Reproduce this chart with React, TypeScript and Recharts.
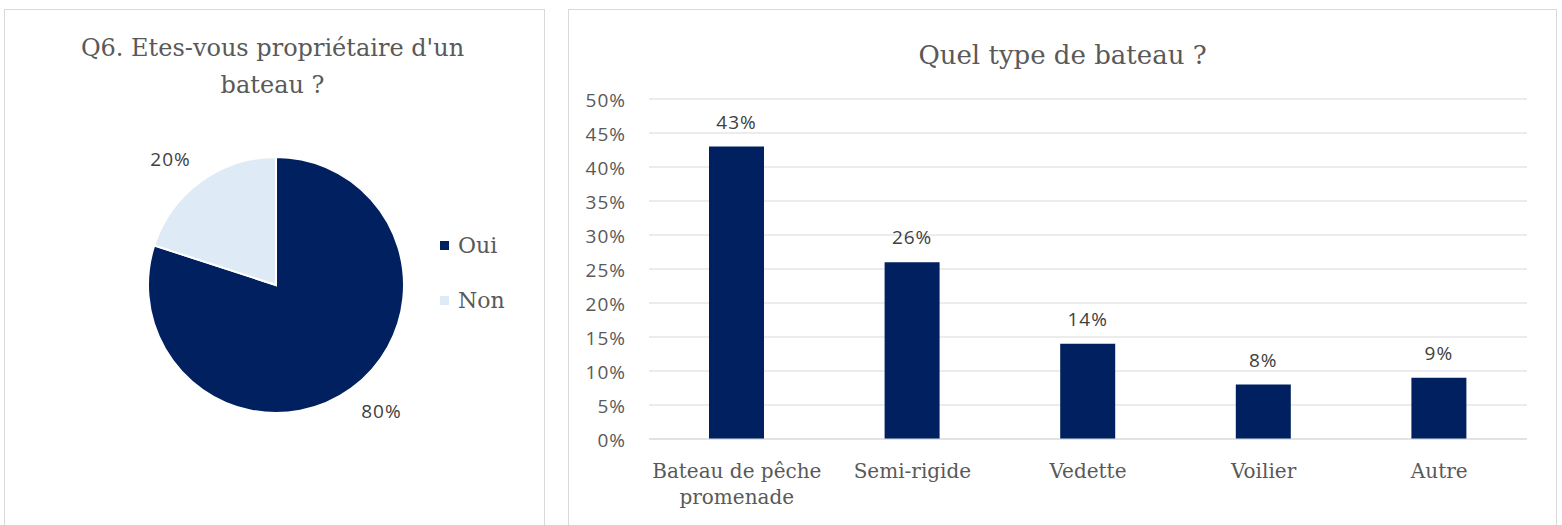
import React from 'react';
import { PieChart, Pie, Cell, BarChart, Bar, XAxis, YAxis, CartesianGrid, LabelList, Text } from 'recharts';

const pieNames = ['Oui', 'Non'];
const pieValues = [80, 20];
const pieColors = ['#002060', '#DEEBF7'];

const boatTypes = ['Bateau de pêche promenade', 'Semi-rigide', 'Vedette', 'Voilier', 'Autre'];
const boatShares = [43, 26, 14, 8, 9];
const percentTicks = [0, 5, 10, 15, 20, 25, 30, 35, 40, 45, 50];

const SERIF = '"DejaVu Serif", serif';
const SANS = '"Open Sans", sans-serif';
const TEXT = '#595959';
const GRID = '#D9D9D9';
const RADIAN = Math.PI / 180;

const pieData = pieNames.map((name, i) => ({ name, value: pieValues[i] }));
const barData = boatTypes.map((type, i) => ({ type, share: boatShares[i] }));

// label box sits just outside the slice edge, like Excel's outside-end labels
const renderPieLabel = (props: any) => {
    const { cx, cy, midAngle, outerRadius, value } = props;
    const r = outerRadius + 17;
    const cos = Math.cos(-midAngle * RADIAN);
    const sin = Math.sin(-midAngle * RADIAN);
    const x = cx + r * cos;
    const y = cy + r * sin + (sin < 0 ? -9 : 9);
    return (
        <text
            x={x}
            y={y}
            textAnchor={cos < 0 ? 'end' : 'start'}
            dominantBaseline="central"
            fill="#404040"
            fontSize={19}
            letterSpacing={1}
            fontFamily={SANS}
        >
            {value}%
        </text>
    );
};

const CategoryTick = (props: any) => {
    const { x, y, payload } = props;
    return (
        <Text
            x={x}
            y={y + 25}
            width={165}
            textAnchor="middle"
            verticalAnchor="start"
            lineHeight={26}
            fill={TEXT}
            fontSize={20}
            fontFamily={SERIF}
        >
            {payload.value}
        </Text>
    );
};

const panel = (left: number, width: number): React.CSSProperties => ({
    position: 'absolute',
    left,
    top: 9,
    width,
    height: 540,
    border: `1px solid ${GRID}`,
    boxSizing: 'border-box',
    background: '#fff',
});

export default function App() {
    return (
        <div style={{ position: 'absolute', left: 0, top: 0, width: 1562, height: 525, overflow: 'hidden', background: '#fff' }}>
            <div style={panel(4, 541)} />
            <div style={panel(568, 989)} />

            {/* Pie panel */}
            <div
                style={{
                    position: 'absolute', left: 0, top: 30, width: 545, textAlign: 'center',
                    fontFamily: SERIF, fontSize: 24, lineHeight: '37px', color: TEXT,
                }}
            >
                Q6. Etes-vous propriétaire d'un<br />bateau ?
            </div>
            <div style={{ position: 'absolute', left: 0, top: 0 }}>
                <PieChart width={545} height={525}>
                    <Pie
                        data={pieData}
                        dataKey="value"
                        nameKey="name"
                        cx={271}
                        cy={280}
                        outerRadius={128}
                        startAngle={90}
                        endAngle={-270}
                        stroke="#ffffff"
                        strokeWidth={2}
                        label={renderPieLabel}
                        labelLine={false}
                        isAnimationActive={false}
                    >
                        {pieData.map((d, i) => (
                            <Cell key={d.name} fill={pieColors[i]} />
                        ))}
                    </Pie>
                </PieChart>
            </div>
            {pieNames.map((name, i) => (
                <div
                    key={name}
                    style={{
                        position: 'absolute', left: 440, top: 230 + i * 55, height: 30,
                        display: 'flex', alignItems: 'center', gap: 9,
                        fontFamily: SERIF, fontSize: 22, color: TEXT,
                    }}
                >
                    <div style={{ width: 9, height: 9, background: pieColors[i] }} />
                    <span>{name}</span>
                </div>
            ))}

            {/* Bar panel */}
            <div
                style={{
                    position: 'absolute', left: 568, top: 38, width: 989, textAlign: 'center',
                    fontFamily: SERIF, fontSize: 26, lineHeight: '34px', color: TEXT,
                }}
            >
                Quel type de bateau ?
            </div>
            <div style={{ position: 'absolute', left: 568, top: 0 }}>
                <BarChart width={994} height={525} data={barData} margin={{ top: 99, right: 35, left: 21, bottom: 0 }}>
                    <CartesianGrid vertical={false} stroke={GRID} />
                    <XAxis
                        dataKey="type"
                        height={86}
                        axisLine={{ stroke: GRID }}
                        tickLine={false}
                        tickSize={0}
                        tickMargin={0}
                        interval={0}
                        tick={<CategoryTick />}
                    />
                    <YAxis
                        width={60}
                        domain={[0, 50]}
                        ticks={percentTicks}
                        tickFormatter={(v: number) => `${v}%`}
                        axisLine={false}
                        tickLine={false}
                        tickSize={0}
                        tickMargin={23}
                        tick={{ fill: TEXT, fontSize: 19, letterSpacing: 1, fontFamily: SANS, dy: 1 }}
                    />
                    <Bar dataKey="share" fill="#002060" barSize={55} isAnimationActive={false}>
                        <LabelList
                            dataKey="share"
                            position="top"
                            offset={18}
                            formatter={(v: any) => `${v}%`}
                            fill="#404040"
                            fontSize={19}
                            letterSpacing={1}
                            fontFamily={SANS}
                        />
                    </Bar>
                </BarChart>
            </div>
        </div>
    );
}
